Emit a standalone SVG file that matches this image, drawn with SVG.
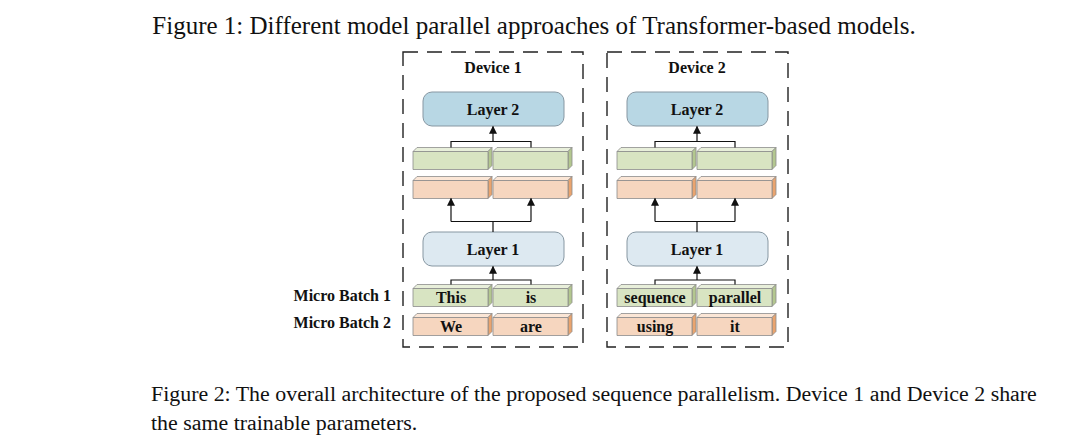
<svg xmlns="http://www.w3.org/2000/svg" xmlns:xlink="http://www.w3.org/1999/xlink" width="1080" height="448" viewBox="0 0 1080 448">
<style>
.cap{font-family:"Liberation Serif","Times New Roman",serif;font-size:21.9px;fill:#111}
.cap1{font-size:25px}
.lbl{font-family:"Liberation Serif","Times New Roman",serif;font-size:16px;font-weight:bold;fill:#111}
.mid{text-anchor:middle}
.end{text-anchor:end}
.dev{fill:none;stroke:#222;stroke-width:1.4;stroke-dasharray:15 9}
.l2{fill:#b8d7e4;stroke:#8797a2;stroke-width:1}
.l1{fill:#dde9f1;stroke:#8797a2;stroke-width:1}
.wire{fill:none;stroke:#111;stroke-width:1.2}
.arr{fill:none;stroke:#111;stroke-width:1.2;marker-end:url(#ah)}
.bs{stroke:#8c8c8c;stroke-width:0.8;stroke-linejoin:round}
</style>
<defs>
<marker id="ah" viewBox="0 0 10 10" refX="9" refY="5" markerUnits="userSpaceOnUse" markerWidth="10" markerHeight="8" orient="auto">
<path d="M0,0 L10,5 L0,10 Z" fill="#111"/>
</marker>
<symbol id="gbox" viewBox="0 0 80 23" width="80" height="23" overflow="visible">
<polygon class="bs" points="0,4 4,0 79,0 75,4" fill="#e8efda"/>
<polygon class="bs" points="75,4 79,0 79,18 75,22" fill="#b3c78f"/>
<rect class="bs" x="0" y="4" width="75" height="18" fill="#d8e4c2"/>
</symbol>
<symbol id="obox" viewBox="0 0 80 23" width="80" height="23" overflow="visible">
<polygon class="bs" points="0,4 4,0 79,0 75,4" fill="#fbe6d6"/>
<polygon class="bs" points="75,4 79,0 79,18 75,22" fill="#eaa46e"/>
<rect class="bs" x="0" y="4" width="75" height="18" fill="#f6d6bf"/>
</symbol>
</defs>
<rect width="1080" height="448" fill="#ffffff"/>

<g id="caption1"><text class="cap cap1 mid" x="534" y="34">Figure 1: Different model parallel approaches of Transformer-based models.</text></g>

<g id="labels">
<text class="lbl end" x="391" y="301">Micro Batch 1</text>
<text class="lbl end" x="391" y="328">Micro Batch 2</text>
</g>

<g id="device1">
<rect class="dev" x="403" y="52" width="180" height="295"/>
<text class="lbl mid" x="493" y="73">Device 1</text>
</g>
<g id="device2">
<rect class="dev" x="607" y="52" width="181" height="295"/>
<text class="lbl mid" x="697" y="73">Device 2</text>
</g>

<g id="d1-layer2"><rect class="l2" x="423" y="92" width="141" height="34" rx="9"/><text class="lbl mid" x="493" y="115">Layer 2</text></g>
<g id="d1-layer1"><rect class="l1" x="423" y="232" width="141" height="34" rx="9"/><text class="lbl mid" x="493" y="255">Layer 1</text></g>
<g id="d2-layer2"><rect class="l2" x="627" y="92" width="141" height="34" rx="9"/><text class="lbl mid" x="697" y="115">Layer 2</text></g>
<g id="d2-layer1"><rect class="l1" x="627" y="232" width="141" height="34" rx="9"/><text class="lbl mid" x="697" y="255">Layer 1</text></g>

<g id="d1-g1"><use xlink:href="#gbox" x="413" y="147.5"/></g>
<g id="d1-g2"><use xlink:href="#gbox" x="493" y="147.5"/></g>
<g id="d1-o1"><use xlink:href="#obox" x="413" y="176.5"/></g>
<g id="d1-o2"><use xlink:href="#obox" x="493" y="176.5"/></g>
<g id="d2-g1"><use xlink:href="#gbox" x="617" y="147.5"/></g>
<g id="d2-g2"><use xlink:href="#gbox" x="697" y="147.5"/></g>
<g id="d2-o1"><use xlink:href="#obox" x="617" y="176.5"/></g>
<g id="d2-o2"><use xlink:href="#obox" x="697" y="176.5"/></g>

<g id="d1-this"><use xlink:href="#gbox" x="413" y="284.5"/><text class="lbl mid" x="451" y="302.5">This</text></g>
<g id="d1-is"><use xlink:href="#gbox" x="493" y="284.5"/><text class="lbl mid" x="531" y="302.5">is</text></g>
<g id="d1-we"><use xlink:href="#obox" x="413" y="313.5"/><text class="lbl mid" x="451" y="331.5">We</text></g>
<g id="d1-are"><use xlink:href="#obox" x="493" y="313.5"/><text class="lbl mid" x="531" y="331.5">are</text></g>
<g id="d2-sequence"><use xlink:href="#gbox" x="617" y="284.5"/><text class="lbl mid" x="655" y="302.5">sequence</text></g>
<g id="d2-parallel"><use xlink:href="#gbox" x="697" y="284.5"/><text class="lbl mid" x="735" y="302.5">parallel</text></g>
<g id="d2-using"><use xlink:href="#obox" x="617" y="313.5"/><text class="lbl mid" x="655" y="331.5">using</text></g>
<g id="d2-it"><use xlink:href="#obox" x="697" y="313.5"/><text class="lbl mid" x="735" y="331.5">it</text></g>

<g id="connectors">
<path class="wire" d="M451,284.5 V280 H531 V284.5"/>
<path class="arr" d="M493,280 V266.5"/>
<path class="wire" d="M493,232 V221.5 M451,221.5 H531"/>
<path class="arr" d="M451,221.5 V198.5"/>
<path class="arr" d="M531,221.5 V198.5"/>
<path class="wire" d="M451,147.5 V141.5 H531 V147.5"/>
<path class="arr" d="M493,141.5 V126.5"/>
<path class="wire" d="M655,284.5 V280 H735 V284.5"/>
<path class="arr" d="M697,280 V266.5"/>
<path class="wire" d="M697,232 V221.5 M655,221.5 H735"/>
<path class="arr" d="M655,221.5 V198.5"/>
<path class="arr" d="M735,221.5 V198.5"/>
<path class="wire" d="M655,147.5 V141.5 H735 V147.5"/>
<path class="arr" d="M697,141.5 V126.5"/>
</g>

<g id="caption2">
<text class="cap" x="151" y="401">Figure 2: The overall architecture of the proposed sequence parallelism. Device 1 and Device 2 share</text>
<text class="cap" x="151" y="430">the same trainable parameters.</text>
</g>
</svg>
